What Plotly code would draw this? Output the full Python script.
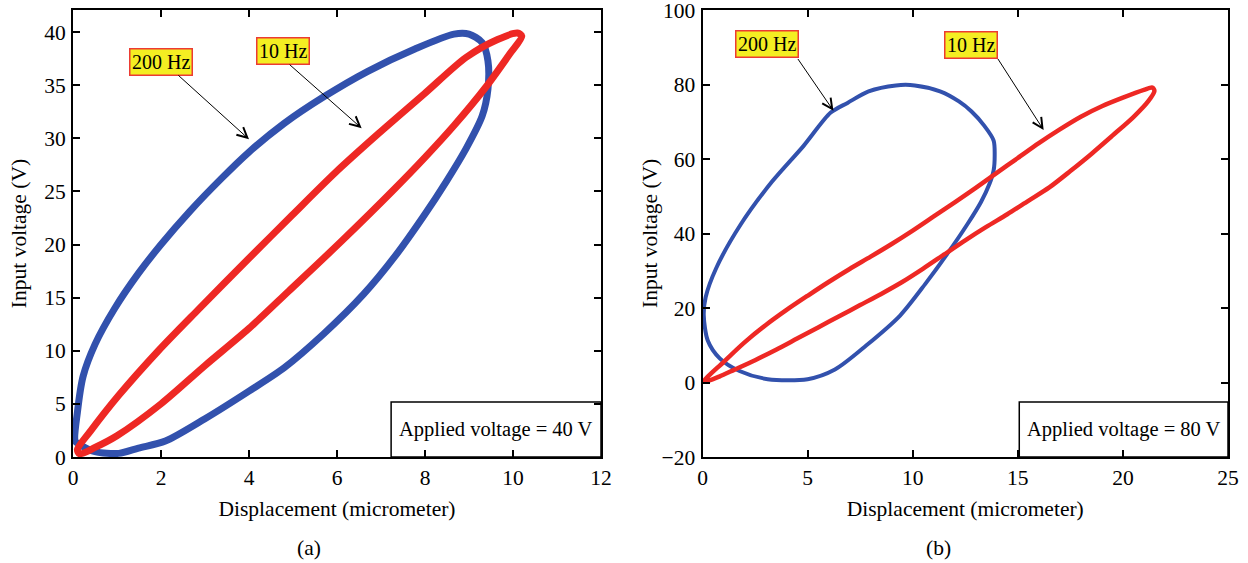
import plotly.graph_objects as go

# ---------------- data ----------------
# (a) applied voltage 40 V
blue_a_x = [0.05, 0.1, 0.23, 0.5, 0.95, 1.49, 2.0, 2.65, 3.37, 4.0, 4.8, 5.7, 6.7, 7.77, 8.66, 9.0, 9.3,
            9.43, 9.43, 9.3, 8.93, 8.48, 7.99, 7.32, 6.6, 5.7, 4.8, 4.0, 3.0, 2.1, 1.49, 1.04, 0.5, 0.14, 0.05]
blue_a_y = [1.5, 4.2, 7.6, 10.6, 14.0, 17.3, 20.0, 23.1, 26.2, 28.7, 31.4, 33.9, 36.3, 38.4, 39.8, 39.8, 39.0,
            37.3, 34.6, 32.1, 29.0, 25.9, 22.8, 18.9, 15.3, 11.6, 8.4, 6.2, 3.6, 1.5, 0.84, 0.34, 0.5, 1.2, 1.5]
red_a_x = [0.1, 0.41, 1.04, 1.94, 2.83, 4.0, 4.99, 5.97, 6.96, 7.99, 8.93, 9.65, 10.1, 10.2, 9.92, 9.38,
           8.66, 8.0, 7.3, 6.1, 4.9, 4.0, 3.0, 2.0, 1.0, 0.5, 0.15, 0.1]
red_a_y = [0.7, 2.5, 5.8, 10.0, 13.8, 18.7, 22.8, 26.8, 30.5, 34.2, 37.6, 39.3, 39.9, 39.6, 37.9, 34.8,
           31.2, 28.2, 25.2, 20.3, 15.6, 12.1, 8.6, 5.0, 2.0, 0.9, 0.3, 0.7]

# (b) applied voltage 80 V
blue_b_x = [3.1, 5.0, 6.3, 7.8, 9.4, 10.6, 11.7, 12.6, 13.25, 13.65, 13.85, 13.9, 13.85, 13.4, 12.8, 12.2, 11.3,
            10.1, 9.2, 7.9, 6.9, 6.1, 4.8, 3.3, 1.8, 0.65, 0.15, 0.06, 0.25, 0.82, 1.76, 3.1]
blue_b_y = [0.9, 0.9, 3.5, 10, 18, 26.5, 35, 42.5, 48.5, 53.3, 57, 61, 65, 69, 72.8, 75.5, 78.2,
            79.8, 79.8, 78.2, 75.1, 72.5, 63.5, 53.9, 42.3, 30.7, 22.9, 18.1, 11.3, 6.5, 3.1, 0.9]
red_b_x = [0.06, 1, 2, 3, 4, 5, 6, 7, 8, 9, 10, 11, 12, 13, 14, 15, 16, 17, 18, 19, 20, 21, 21.4,
           21.5, 21.2, 20.5, 19.5, 18.5, 17.5, 16.5, 15.5, 14.5, 13.5, 12.5, 11.5, 10.5, 9.5, 8.5,
           7.5, 6.5, 5.5, 4.5, 3.5, 2.5, 1.5, 0.8, 0.3, 0.06]
red_b_y = [0.3, 5.5, 10.8, 15.4, 19.5, 23.3, 27.0, 30.5, 33.8, 37.2, 40.8, 44.6, 48.4, 52.3, 56.3, 60.3, 64.3,
           68.0, 71.4, 74.2, 76.5, 78.6, 79.2,
           78.3, 75.5, 71.3, 66.3, 61.4, 56.8, 52.4, 48.8, 45.2, 41.8, 38.2, 34.4, 30.6, 27.0, 23.8,
           20.8, 17.8, 14.8, 11.8, 8.8, 6.0, 3.4, 1.6, 0.5, 0.3]

x_ticks_a = [0, 2, 4, 6, 8, 10, 12]
y_ticks_a = [0, 5, 10, 15, 20, 25, 30, 35, 40]
x_ticks_b = [0, 5, 10, 15, 20, 25]
y_ticks_b = [-20, 0, 20, 40, 60, 80, 100]
y_ticktext_b = ["\u221220", "0", "20", "40", "60", "80", "100"]

BLUE = "#3251ad"
RED = "#ee2824"
FONT = "Liberation Serif"
FS = 21.5

fig = go.Figure()
fig.add_trace(go.Scatter(x=blue_a_x, y=blue_a_y, mode="lines", line=dict(color=BLUE, width=7, shape="spline", smoothing=0.8),
                         xaxis="x", yaxis="y", showlegend=False))
fig.add_trace(go.Scatter(x=red_a_x, y=red_a_y, mode="lines", line=dict(color=RED, width=7, shape="spline", smoothing=0.8),
                         xaxis="x", yaxis="y", showlegend=False))
fig.add_trace(go.Scatter(x=blue_b_x, y=blue_b_y, mode="lines", line=dict(color=BLUE, width=4, shape="spline", smoothing=0.8),
                         xaxis="x2", yaxis="y2", showlegend=False))
fig.add_trace(go.Scatter(x=red_b_x, y=red_b_y, mode="lines", line=dict(color=RED, width=4.5, shape="spline", smoothing=0.8),
                         xaxis="x2", yaxis="y2", showlegend=False))

axis_common = dict(showline=True, linecolor="black", linewidth=2, mirror="ticks", ticks="inside",
                   ticklen=7, tickwidth=2, tickcolor="black", showgrid=False, zeroline=False,
                   ticklabeloverflow="allow", automargin=False,
                   tickfont=dict(family=FONT, size=FS, color="black"))

ydom = [106 / 563, 553 / 563]
fig.update_layout(
    width=1248, height=563, margin=dict(l=0, r=0, t=0, b=0, autoexpand=False),
    paper_bgcolor="white", plot_bgcolor="white",
    font=dict(family=FONT, size=20, color="black"),
    xaxis=dict(domain=[73 / 1248, 601 / 1248], range=[0, 12], tickvals=x_ticks_a, anchor="y",
               title=dict(text="Displacement (micrometer)", font=dict(family=FONT, size=FS), standoff=12), **axis_common),
    yaxis=dict(domain=ydom, range=[0, 42.07], tickvals=y_ticks_a, anchor="x", ticklabelstandoff=1,
               title=dict(text="Input voltage (V)", font=dict(family=FONT, size=FS), standoff=12), **axis_common),
    xaxis2=dict(domain=[702.5 / 1248, 1228 / 1248], range=[0, 25], tickvals=x_ticks_b, anchor="y2",
                title=dict(text="Displacement (micrometer)", font=dict(family=FONT, size=FS), standoff=12), **axis_common),
    yaxis2=dict(domain=ydom, range=[-20, 100.05], tickvals=y_ticks_b, anchor="x2", ticklabelstandoff=1,
                ticktext=y_ticktext_b, **axis_common),
)

# "Applied voltage" boxes
fig.add_shape(type="rect", xref="x", yref="y", x0=7.23, x1=12, y0=0, y1=5.18,
              line=dict(color="black", width=1.5), fillcolor="white", layer="below")
fig.add_shape(type="rect", xref="x2", yref="y2", x0=15.07, x1=25, y0=-20, y1=-5.2,
              line=dict(color="black", width=1.5), fillcolor="white", layer="below")

annos = []
# y-axis title of panel (b), placed close to its tick labels as in the reference
annos.append(dict(xref="paper", yref="paper", x=650 / 1248, y=1 - 234 / 563, text="Input voltage (V)",
                  textangle=-90, showarrow=False, xanchor="center", yanchor="middle",
                  font=dict(family=FONT, size=FS)))
annos.append(dict(xref="x", yref="y", x=9.62, y=2.55, text="Applied voltage = 40 V", showarrow=False,
                  font=dict(family=FONT, size=20.5)))
annos.append(dict(xref="x2", yref="y2", x=20.05, y=-12.5, text="Applied voltage = 80 V", showarrow=False,
                  font=dict(family=FONT, size=20.5)))

label_style = dict(showarrow=False, bgcolor="#f4ee22", bordercolor="#ec3b33", borderwidth=1.5, borderpad=1.5,
                   font=dict(family=FONT, size=20, color="black"))
annos.append(dict(xref="x", yref="y", x=2.01, y=37.2, text="200 Hz", **label_style))
annos.append(dict(xref="x", yref="y", x=4.77, y=38.2, text="10 Hz", **label_style))
annos.append(dict(xref="x2", yref="y2", x=3.06, y=90.9, text="200 Hz", **label_style))
annos.append(dict(xref="x2", yref="y2", x=12.75, y=90.6, text="10 Hz", **label_style))

arrow_style = dict(text="", showarrow=True, arrowhead=5, arrowsize=2.0, arrowwidth=1, arrowcolor="black",
                   standoff=0, startstandoff=0)
annos.append(dict(xref="x", yref="y", axref="x", ayref="y", x=4.0, y=29.9, ax=2.36, ay=36.05, **arrow_style))
annos.append(dict(xref="x", yref="y", axref="x", ayref="y", x=6.56, y=30.94, ax=4.89, ay=37.05, **arrow_style))
annos.append(dict(xref="x2", yref="y2", axref="x2", ayref="y2", x=6.23, y=73.0, ax=4.49, ay=87.3, **arrow_style))
annos.append(dict(xref="x2", yref="y2", axref="x2", ayref="y2", x=16.23, y=67.8, ax=14.01, ay=87.3, **arrow_style))

annos.append(dict(xref="paper", yref="paper", x=309 / 1248, y=1 - 548 / 563, text="(a)", showarrow=False,
                  xanchor="center", yanchor="middle", font=dict(family=FONT, size=FS)))
annos.append(dict(xref="paper", yref="paper", x=938 / 1248, y=1 - 548 / 563, text="(b)", showarrow=False,
                  xanchor="center", yanchor="middle", font=dict(family=FONT, size=FS)))

fig.update_layout(annotations=annos)
fig.write_html("out.html")
